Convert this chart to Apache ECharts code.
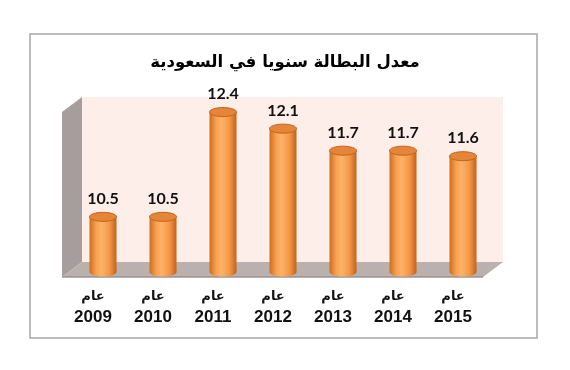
<!DOCTYPE html>
<html>
<head>
<meta charset="utf-8">
<script src="https://cdn.jsdelivr.net/npm/echarts@6/dist/echarts.min.js"></script>
<style>html,body{margin:0;padding:0;background:#fff;}#c{width:570px;height:370px;}</style>
</head>
<body>
<div id="c"></div>
<script>
const titleText = 'معدل البطالة سنويا في السعودية';
const yearPrefix = 'عام';
const years = ['2009', '2010', '2011', '2012', '2013', '2014', '2015'];
const rates = [10.5, 10.5, 12.4, 12.1, 11.7, 11.7, 11.6];
const yMin = 9.5, yMax = 13;

const chart = echarts.init(document.getElementById('c'), null, {renderer: 'canvas'});

const bodyGrad = new echarts.graphic.LinearGradient(0, 0, 1, 0, [
  {offset: 0, color: '#cf6d1f'},
  {offset: 0.25, color: '#f7a250'},
  {offset: 0.45, color: '#fcb26a'},
  {offset: 0.75, color: '#f39543'},
  {offset: 1, color: '#c3621a'}
]);

const option = {
  backgroundColor: '#ffffff',
  animation: false,
  title: {
    text: titleText,
    left: 'center',
    top: 49,
    textStyle: {fontFamily: 'DejaVu Sans', fontWeight: 'bold', fontSize: 16.5, color: '#000'}
  },
  grid: {left: 73, right: 77, top: 79, bottom: 98},
  xAxis: {
    type: 'category',
    data: years,
    axisLine: {show: false},
    axisTick: {show: false},
    axisLabel: {
      margin: 14,
      padding: [0, 20, 0, 0],
      formatter: v => '{a|' + yearPrefix + '}\n{b|' + v + '}',
      rich: {
        a: {fontFamily: 'DejaVu Sans', fontSize: 13, fontWeight: 'bold', color: '#111', lineHeight: 21, align: 'center'},
        b: {fontFamily: 'Liberation Sans', fontSize: 17, fontWeight: 'bold', color: '#111', lineHeight: 21, align: 'center'}
      }
    }
  },
  yAxis: {
    type: 'value', min: yMin, max: yMax,
    show: false, splitLine: {show: false}
  },
  graphic: [
    {type: 'rect', z: 0, shape: {x: 30, y: 34, width: 507, height: 304}, style: {fill: '#fff', stroke: '#a6a6a6', lineWidth: 1.5}},
    {type: 'rect', z: 1, shape: {x: 82, y: 97, width: 421, height: 165}, style: {fill: '#fdeee9'}},
    {type: 'polygon', z: 1, shape: {points: [[62, 112], [82, 97], [82, 262], [62, 277]]}, style: {fill: '#a69e9c'}},
    {type: 'polygon', z: 1, shape: {points: [[82, 262], [503, 262], [483, 277], [62, 277]]}, style: {fill: '#bab1ae'}},
    {type: 'line', z: 1, shape: {x1: 62, y1: 277, x2: 483, y2: 277}, style: {stroke: '#9c9391', lineWidth: 1.5}}
  ],
  series: [{
    type: 'custom',
    z: 5,
    data: rates.map((v, i) => [i, v]),
    renderItem: function (params, api) {
      const top = api.coord([api.value(0), api.value(1)]);
      const base = api.coord([api.value(0), yMin]);
      const w = api.size([1, 0])[0] * 0.45;
      const rx = w / 2, ry = 4.5;
      const cx = top[0];
      return {
        type: 'group',
        children: [
          {type: 'ellipse', shape: {cx: cx, cy: base[1], rx: rx, ry: ry}, style: {fill: bodyGrad}},
          {type: 'rect', shape: {x: cx - rx, y: top[1], width: w, height: base[1] - top[1]}, style: {fill: bodyGrad}},
          {type: 'ellipse', shape: {cx: cx, cy: top[1], rx: rx, ry: ry}, style: {fill: '#e4853a', stroke: '#c4641c', lineWidth: 1}},
          {type: 'text', style: {text: api.value(1).toFixed(1), x: cx, y: top[1] - 18, textAlign: 'center', textVerticalAlign: 'middle',
            font: 'bold 16px Lato', fill: '#111'}}
        ]
      };
    }
  }]
};
chart.setOption(option);
</script>
</body>
</html>
